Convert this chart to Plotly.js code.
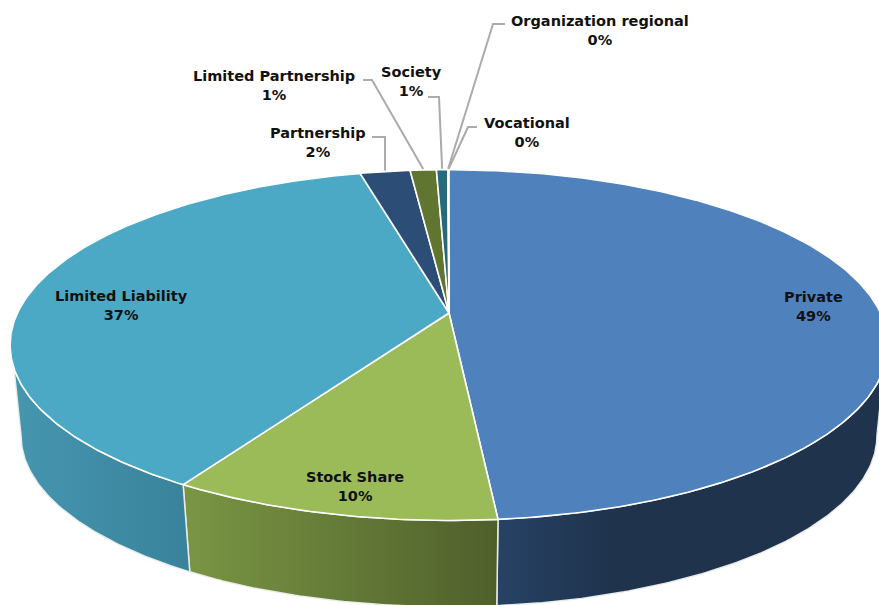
<!DOCTYPE html>
<html>
<head>
<meta charset="utf-8">
<script src="https://cdn.plot.ly/plotly-3.0.1.min.js"></script>
<style>html,body{margin:0;padding:0;background:#fff}#chart{width:879px;height:605px}</style>
</head>
<body>
<div id="chart"></div>
<script>
// ---- Data ----
const categories = ['Private','Stock Share','Limited Liability','Partnership','Limited Partnership','Society','Organization regional','Vocational'];
const shares = [48.52,10.18,37.4,2.2,1.15,0.5,0.025,0.025];

// ---- Styles ----
const topColors = ['#4F81BD','#9BBB59','#4BA9C5','#2C4D75','#5F7530','#276A7C','#729ACA','#AFC97A'];
const wallStops = [
  [[0,'#274264'],[0.3,'#1F334D'],[1,'#1F334D']],
  [[0,'#7A9644'],[1,'#4F5F2B']],
  [[0,'#4696B0'],[1,'#39829B']]
];

// ---- Projection of the tilted disc onto the page ----
const cx = 449, cyTop = 313, cyBot = 404.5;
const A = 431.5, B = 169.5, K = 0.183, bottomScale = 0.975;
const deg = Math.PI/180;
// Where the side wall meets the visible outline of the upper and lower rims
const frontTop = [108*deg, 252*deg], frontBottom = [100.5*deg, 259.5*deg];
function rim(theta, bottom){
  const u = Math.sin(theta), v = Math.cos(theta), w = 1 + K*v;
  const s = bottom ? bottomScale : 1;
  return [cx + s*A*u/w, (bottom?cyBot:cyTop) - s*B*v/w];
}
function arc(t0, t1, bottom){
  const n = Math.max(2, Math.ceil(Math.abs(t1-t0)/0.01));
  const pts = [];
  for(let i=0;i<=n;i++) pts.push(rim(t0+(t1-t0)*i/n, bottom));
  return pts;
}
const total = shares.reduce((a,b)=>a+b,0);
let acc = 0;
const spans = shares.map(s=>{const a=acc; acc+=s; return [a/total*2*Math.PI, acc/total*2*Math.PI];});

function poly(pts, extra){
  return Object.assign({
    type:'scatter', mode:'lines', x:pts.map(p=>p[0]), y:pts.map(p=>p[1]),
    fill:'toself', hoverinfo:'skip', showlegend:false
  }, extra);
}

const traces = [];
// Walls of the slices that reach the front of the disc
spans.forEach((sp,i)=>{
  if(sp[1] <= frontTop[0] || sp[0] >= frontTop[1]) return;
  const upper = arc(Math.max(sp[0],frontTop[0]), Math.min(sp[1],frontTop[1]), false);
  const lower = arc(Math.min(sp[1],frontBottom[1]), Math.max(sp[0],frontBottom[0]), true);
  const pts = upper.concat(lower);
  pts.push(pts[0]);
  traces.push(poly(pts,{
    line:{color:'rgba(235,238,235,0.95)',width:1.5},
    fillgradient:{type:'horizontal',colorscale:wallStops[i]}
  }));
});
// Top faces
spans.forEach((sp,i)=>{
  const pts = [[cx,cyTop]].concat(arc(sp[0],sp[1],false));
  pts.push([cx,cyTop]);
  traces.push(poly(pts,{line:{color:'#ffffff',width:1.6},fillcolor:topColors[i]}));
});

// ---- Labels and leader lines ----
const labelCentres = [[813,306],[355,486],[121,305],[318,142],[274,85],[411,81],[600,30],[527,132]];
const leaderElbows = {
  3:[[372,137],[385,137]],
  4:[[363,80],[372,80]],
  5:[[428,97],[439,97]],
  6:[[505,24],[493,24]],
  7:[[477,127],[468,127]]
};
Object.keys(leaderElbows).forEach(k=>{
  const i = +k, mid = (spans[i][0]+spans[i][1])/2;
  const pts = leaderElbows[k].concat([rim(mid,false)]);
  pts[2] = [pts[2][0], pts[2][1]-1];
  traces.push({type:'scatter',mode:'lines',x:pts.map(p=>p[0]),y:pts.map(p=>p[1]),
    line:{color:'#ABABAB',width:2},hoverinfo:'skip',showlegend:false});
});
const annotations = categories.map((c,i)=>({
  x:labelCentres[i][0], y:labelCentres[i][1], xref:'x', yref:'y',
  xanchor:'center', yanchor:'middle', align:'center', showarrow:false,
  text:'<b>'+c+'<br>'+Math.round(shares[i])+'%</b>',
  font:{family:'"DejaVu Sans", sans-serif',size:14.5,color:'#111111'}
}));

Plotly.newPlot('chart',traces,{
  width:879,height:605,
  margin:{l:0,r:0,t:0,b:0},
  paper_bgcolor:'#ffffff',plot_bgcolor:'#ffffff',
  showlegend:false,
  xaxis:{range:[0,879],visible:false,fixedrange:true},
  yaxis:{range:[605,0],visible:false,fixedrange:true},
  annotations:annotations
},{staticPlot:true,displayModeBar:false});
</script>
</body>
</html>
